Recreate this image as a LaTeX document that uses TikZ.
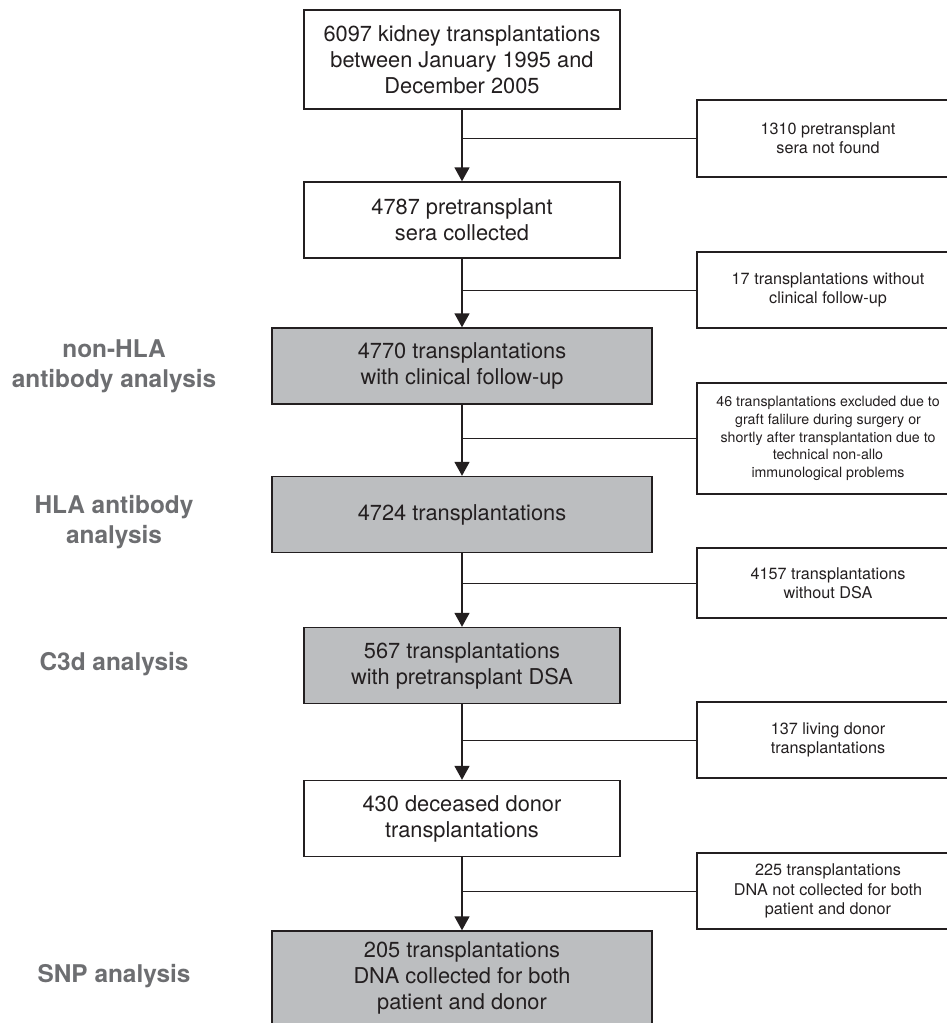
\documentclass[tikz,border=0pt]{standalone}
\usepackage{fontspec}
\setmainfont{TeX Gyre Heros}
\usetikzlibrary{arrows.meta}
\definecolor{boxgray}{HTML}{BCBEC0}
\definecolor{ink}{HTML}{231F20}
\definecolor{labgray}{HTML}{6D6E71}
\begin{document}
\begin{tikzpicture}[x=1pt,y=-1pt,>={Triangle[length=14pt,width=15pt]},
		mainbox/.style={draw=ink,line width=1.4pt,fill=white,text=ink,align=center,inner sep=0pt,
			minimum width=316pt,minimum height=76pt,font=\fontsize{21.8}{26}\selectfont},
		greybox/.style={mainbox,fill=boxgray,minimum width=380pt},
		sidebox/.style={draw=ink,line width=1.2pt,text=ink,align=center,inner sep=0pt,
			minimum width=262pt,minimum height=76pt,font=\fontsize{16.2}{19.3}\selectfont},
		stage/.style={text=labgray,align=center,font=\bfseries\fontsize{24.4}{30}\selectfont},
		flow/.style={->,draw=ink,line width=1.6pt},
		branch/.style={draw=ink,line width=1pt}]
		\useasboundingbox (0,0) rectangle (946,1023);
		% main column
		\node[mainbox,minimum height=99pt] (n1) at (462,59.5) {6097 kidney transplantations\\ between January 1995 and\\December 2005};
		\node[mainbox] (n2) at (462,220) {4787 pretransplant\\ sera collected};
		\node[greybox] (n3) at (462,366) {4770 transplantations\\with clinical follow-up};
		\node[greybox] (n4) at (462,514.5) {4724 transplantations};
		\node[greybox,minimum width=316pt] (n5) at (462,665.5) {567 transplantations\\with pretransplant DSA};
		\node[mainbox] (n6) at (462,818.5) {430 deceased donor\\transplantations};
		\node[greybox,minimum height=94pt] (n7) at (462,978) {205 transplantations\\DNA collected for both\\ patient and donor};
		% excluded
		\node[sidebox,minimum height=77pt] (s1) at (828,138.5) {1310 pretransplant\\sera not found};
		\node[sidebox] (s2) at (828,290) {17 transplantations without\\clinical follow-up};
		\node[sidebox,minimum height=111pt,font=\fontsize{14.2}{17.7}\selectfont] (s3) at (828,438.5) {46 transplantations excluded due to\\graft falilure during surgery or\\shortly after transplantation due to\\technical non-allo\\ immunological problems};
		\node[sidebox,minimum height=70pt] (s4) at (828,583) {4157 transplantations\\without DSA};
		\node[sidebox] (s5) at (828,740) {137 living donor\\transplantations};
		\node[sidebox] (s6) at (828,891) {225 transplantations\\DNA not collected for both\\patient and donor};
		% stages
		\node[stage] (l3) at (114,366) {non-HLA\\antibody analysis};
		\node[stage] (l4) at (114,522) {HLA antibody\\analysis};
		\node[stage] (l5) at (114,664) {C3d analysis};
		\node[stage] (l7) at (114,976) {SNP analysis};
		% connectors
		\foreach \a/\b/\s in {n1/n2/s1,n2/n3/s2,n3/n4/s3,n4/n5/s4,n5/n6/s5,n6/n7/s6}{
			\draw[flow] (\a) -- (\b);
			\draw[branch] (\a |- \s) -- (\s);
		}
	\end{tikzpicture}
\end{document}
